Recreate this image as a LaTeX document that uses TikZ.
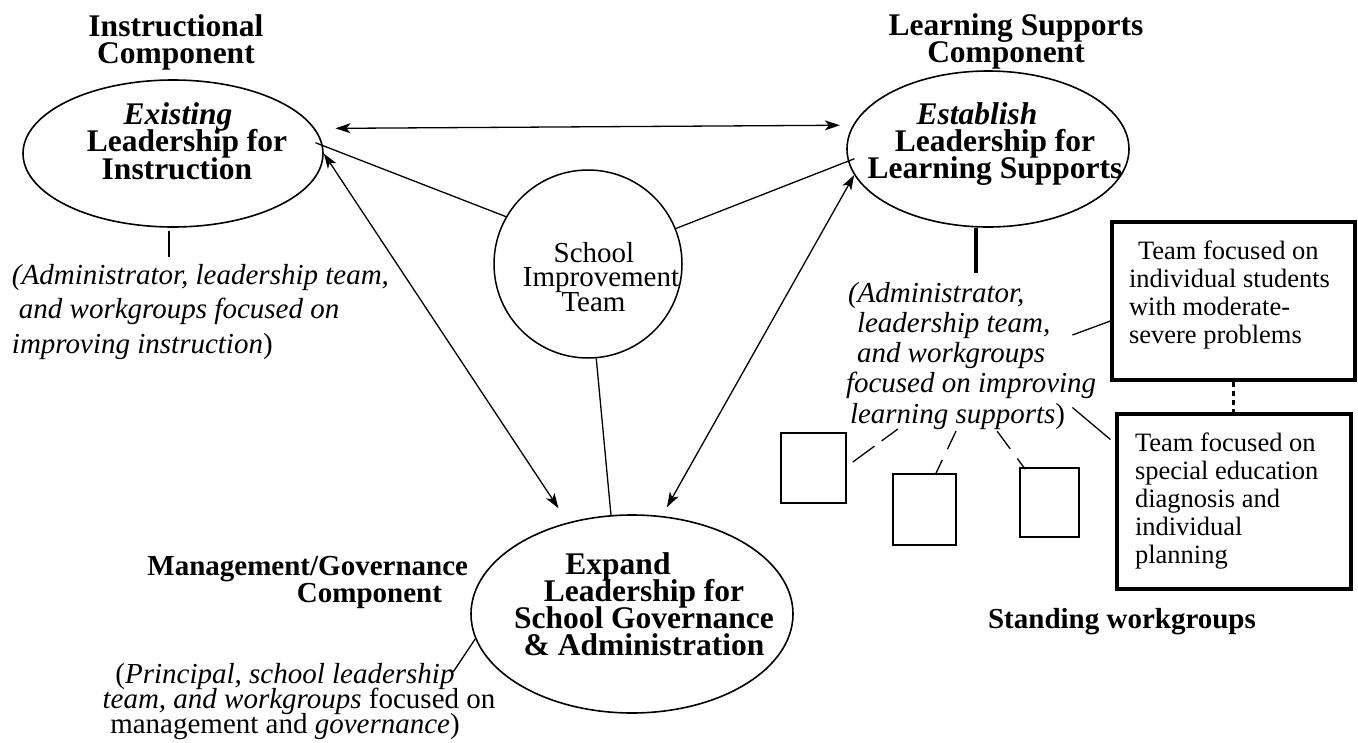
\documentclass[tikz,border=0pt]{standalone}
\usepackage{fontspec}
\setmainfont{Liberation Serif}
\usetikzlibrary{arrows.meta,shapes.geometric}
\newcommand\fBig{\fontsize{31.5}{27}\selectfont\bfseries\lineskiplimit=-200pt\relax}
\newcommand\fBigL{\fontsize{31.5}{27.5}\selectfont\bfseries\lineskiplimit=-200pt\relax}
\newcommand\fBold{\fontsize{29}{27}\selectfont\bfseries\lineskiplimit=-200pt\relax}
\newcommand\fCirc{\fontsize{29}{24.5}\selectfont\lineskiplimit=-200pt\relax}
\newcommand\fLnote{\fontsize{29}{34.5}\selectfont\itshape\lineskiplimit=-200pt\relax}
\newcommand\fRnote{\fontsize{29}{30.2}\selectfont\itshape\lineskiplimit=-200pt\relax}
\newcommand\fBnote{\fontsize{29}{25}\selectfont\lineskiplimit=-200pt\relax}
\newcommand\fBox{\fontsize{26.5}{27.9}\selectfont\lineskiplimit=-200pt\relax}
\begin{document}
\begin{tikzpicture}[x=1pt,y=-1pt,
  ell/.style={draw, ellipse, line width=1.6pt, inner sep=0pt},
  txt/.style={inner sep=0pt, outer sep=0pt},
  arr/.style={{Stealth[length=15pt,width=10pt,inset=4pt]}-{Stealth[length=15pt,width=10pt,inset=4pt]}, line width=1.3pt},
  link/.style={line width=1.3pt},
  thickbox/.style={draw, line width=3.2pt, inner sep=0pt},
  smallbox/.style={draw, line width=1.7pt, inner sep=0pt},
  dotlink/.style={line width=3.2pt, dash pattern=on 5pt off 4pt}]
\fill[white] (0,0) rectangle (1358,742);
\useasboundingbox (0,0) rectangle (1358,742);

% main shapes
\node[ell, minimum width=300pt, minimum height=147pt] (L) at (173,153.5) {};
\node[ell, minimum width=282pt, minimum height=156pt] (R) at (988,149) {};
\node[draw, circle, line width=1.5pt, minimum size=188pt, inner sep=0pt] (C) at (588,264) {};
\node[ell, minimum width=322pt, minimum height=198pt] (B) at (632,614) {};

% boxes
\node[thickbox, minimum width=243pt, minimum height=158pt] (box1) at (1233.5,301) {};
\node[thickbox, minimum width=234pt, minimum height=175pt] (box2) at (1234,501.5) {};
\node[smallbox, minimum width=65pt, minimum height=70pt] (sa) at (813.5,468) {};
\node[smallbox, minimum width=63pt, minimum height=71pt] (sb) at (924.5,509.5) {};
\node[smallbox, minimum width=59pt, minimum height=69pt] (sc) at (1049.5,502.5) {};

% texts (anchor base = baseline of the last line)
\node[txt, font=\fBig, align=center, anchor=base] (Lt) at (176,63) {Instructional\\Component};
\node[txt, font=\fBig, align=center, anchor=base] (Rt) at (1016,62) {Learning Supports\\Component\hspace*{20pt}};
\node[txt, font=\fBigL, align=center, anchor=base] (Ltx) at (187,179) {\textit{Existing}\hspace*{18pt}\\Leadership for\\Instruction\hspace*{20pt}};
\node[txt, font=\fBig, align=center, anchor=base] (Rtx) at (995,178) {\textit{Establish}\hspace*{36pt}\\Leadership for\hspace*{24pt}\\Learning Supports};
\node[txt, font=\fBig, align=center, anchor=base] (Btx) at (644,655) {Expand\hspace*{52pt}\\Leadership for\hspace*{-6pt}\\School Governance\\\& Administration};
\node[txt, font=\fCirc, align=center, anchor=base] (Ctx) at (601,311) {School\hspace*{14pt}\\Improvement\\Team\hspace*{15pt}};
\node[txt, font=\fLnote, align=left, anchor=base west] (Lnote) at (12,353) {(Administrator, leadership team,\\\hspace*{7pt}and workgroups focused on\\improving instruction\textup{)}};
\node[txt, font=\fRnote, align=left, anchor=base west] (Rnote) at (846,423) {\hspace*{2pt}(Administrator,\\\hspace*{11pt}leadership team,\\\hspace*{11pt}and workgroups\\focused on improving\\\hspace*{4pt}learning supports\textup{)}};
\node[txt, font=\fBox, align=left, anchor=base west] (b1tx) at (1129,343) {\hspace*{9pt}Team focused on\\individual students\\with moderate-\\severe problems};
\node[txt, font=\fBox, align=left, anchor=base west] (b2tx) at (1135,563) {Team focused on\\special education\\diagnosis and\\individual\\planning};
\node[txt, font=\fBold, align=right, anchor=base east] (Mt) at (468,602) {Management/Governance\\Component\hspace*{26pt}};
\node[txt, font=\fBnote, align=center, anchor=base] (Bnote) at (299,733) {(\textit{Principal, school leadership}\hspace*{28pt}\\\textit{team, and workgroups} focused on\\management and \textit{governance})\hspace*{28pt}};
\node[txt, font=\fBold, anchor=base] (Stand) at (1122,628) {Standing workgroups};

% connectors
\draw[arr, shorten <=20.5pt, shorten >=13pt] (L.10.95) -- (R.170.5);
\draw[link, shorten <=-8pt] (L.3.46) -- (C.150.8);
\draw[link, shorten >=-7pt] (C.22.6) -- (R.185.1);
\draw[arr, shorten >=17pt] (L.east) -- (B.125.2);
\draw[arr, shorten >=10pt] (R.191.5) -- (B.73.9);
\draw[link] (C.-85.7) -- (B.102);
\draw[line width=1.3pt] (L.south) ++(-4,3) -- ++(0,26);
\draw[line width=4pt] (R.south) ++(-12,0) -- ++(0,45);
\draw[link] (B.189) -- ++(-22,33);
\draw[link] ([yshift=-20pt]box1.west) -- ++(-38,14);
\draw[link] ([xshift=-5pt,yshift=62pt]box2.west) -- ++(-38,-32);
\draw[dotlink] (box1.south) -- (box1.south |- box2.north);
\draw[link, dash pattern=on 20pt off 9pt on 30pt off 0pt] ([xshift=6pt,yshift=6pt]sa.east) ++(45,-33) -- ([xshift=6pt,yshift=6pt]sa.east);
\draw[link, dash pattern=on 20pt off 12pt on 20pt off 0pt] ([xshift=11.5pt]sb.north) ++(20,-42) -- ([xshift=11.5pt]sb.north);
\draw[link, dash pattern=on 22pt off 12pt on 20pt off 0pt] (sc.north west) ++(-22,-36) -- ([xshift=6pt,yshift=-2pt]sc.north west);
\end{tikzpicture}
\end{document}
